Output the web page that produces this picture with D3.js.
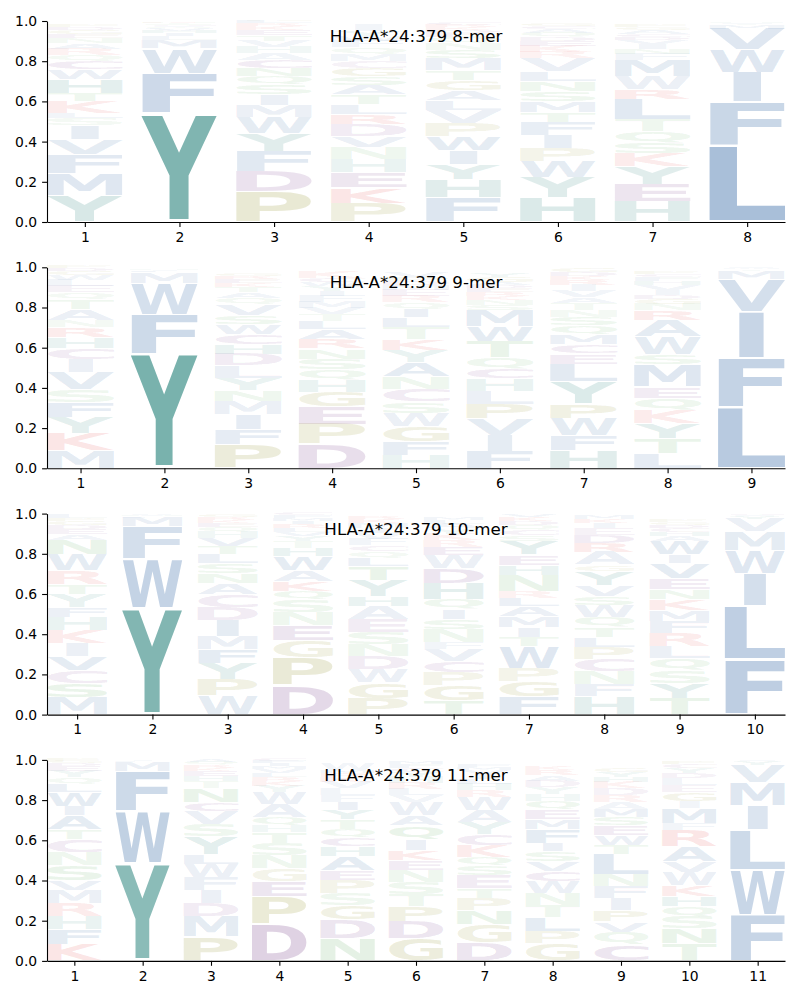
<!DOCTYPE html>
<html>
<head>
<meta charset="utf-8">
<script src="https://cdn.jsdelivr.net/npm/d3@7"></script>
<style>
  body { margin: 0; background: #fff; }
  text { font-family: 'DejaVu Sans', sans-serif; }
</style>
</head>
<body>
<div id="chart"></div>
<script>
let allele = 'HLA-A*24:379';
let merLengths = [8, 9, 10, 11];

// letters are listed bottom to top, heights are probabilities
let mer8Letters = [
  'YMFVISLKTHWCQRANEGDP', 'YFWMLIHVQACSTNKREDGP', 'PDFYWMISQNCAHVTEKRLG', 'PKEHNVDRLTASGCMQFWYI',
  'FHYIWPVLAGTMSNQEDKRC', 'HYWPIFTMSNLVRKEDQACG', 'HEYKSQTLRWMFNIVDCAGP', 'LFIWVMYAHCT'];
let mer8Heights = [
  [.13,.11,.095,.075,.07,.035,.025,.06,.04,.07,.05,.04,.03,.03,.03,.025,.02,.02,.015,.01],
  [.54,.2,.125,.04,.02,.015,.012,.01,.008,.006,.005,.004,.004,.003,.003,.002,.002,.002,.001,.001],
  [.15,.1,.1,.09,.08,.06,.055,.05,.04,.04,.04,.035,.03,.03,.03,.025,.02,.015,.01,.005],
  [.095,.075,.075,.065,.06,.055,.06,.05,.05,.05,.045,.045,.04,.035,.035,.035,.03,.025,.025,.03],
  [.12,.09,.075,.07,.07,.065,.065,.05,.05,.05,.05,.06,.04,.035,.03,.02,.015,.015,.01,.01],
  [.12,.1,.08,.065,.065,.065,.05,.055,.05,.05,.05,.065,.03,.03,.025,.02,.02,.02,.015,.015],
  [.1,.085,.09,.065,.055,.055,.06,.1,.05,.065,.08,.03,.025,.025,.02,.015,.015,.02,.015,.01],
  [.378,.218,.148,.113,.105,.02,.005,.004,.003,.002,.002]];

let mer9Letters = [
  'MKYFSVICHRNATQELWGDP', 'YFWMLIHVQACSTN', 'PFIMNYLDHCWSVQATKERG', 'DPEGHQSNRALTVMFIYWCK',
  'HFGWSCNAYKTLIQREMDPV', 'FIVPLHCQTWMSNKREDAGY', 'HFWPYLECMQSNTAVIRKDG', 'LTYKQEMSWARNGDIVHFCP', 'LFIVMYWAC'];
let mer9Heights = [
  [.09,.085,.08,.075,.06,.085,.065,.055,.055,.05,.035,.055,.05,.035,.03,.03,.025,.02,.015,.01],
  [.57,.196,.156,.052,.008,.005,.003,.002,.002,.001,.001,.001,.001,.001],
  [.12,.075,.075,.065,.055,.06,.06,.06,.045,.05,.05,.045,.055,.03,.03,.025,.02,.02,.015,.015],
  [.12,.1,.085,.075,.06,.05,.055,.05,.045,.05,.04,.035,.03,.03,.03,.025,.025,.02,.02,.03],
  [.065,.07,.075,.065,.055,.065,.06,.07,.06,.055,.06,.05,.04,.035,.03,.03,.025,.02,.02,.025],
  [.085,.08,.08,.075,.065,.06,.05,.055,.08,.075,.08,.025,.025,.02,.02,.02,.015,.015,.025,.02],
  [.09,.075,.085,.07,.11,.09,.05,.045,.05,.045,.04,.035,.035,.03,.03,.03,.025,.02,.02,.02],
  [.075,.075,.075,.065,.06,.055,.11,.05,.09,.08,.05,.03,.025,.02,.025,.025,.02,.02,.015,.01],
  [.304,.243,.229,.165,.04,.008,.005,.004,.002]];

let mer10Letters = [
  'MSCVIKHFYTRWNAEDGPL', 'YWFMLIHVQAC', 'WPYFMIDCANSLTVHQEKRG', 'DPGENSQKAWHTYVLRIMFC',
  'PGWDNSEAHYTLQCFVIMKR', 'TGPCVFNSIQHDWERKYALM', 'FGPWTIMALRNHEYSCQDKV', 'HFNCPLTQWSVYGARDEIKM',
  'TYSQLRFMKNEVIWAHCDGP', 'FLIWMVYACH'];
let mer10Heights = [
  [.085,.07,.065,.07,.065,.065,.065,.05,.065,.05,.065,.08,.075,.03,.025,.02,.02,.015,.02],
  [.53,.244,.162,.044,.006,.004,.003,.003,.002,.001,.001],
  [.095,.08,.08,.07,.065,.08,.065,.065,.055,.05,.05,.045,.04,.04,.03,.025,.02,.015,.015,.015],
  [.145,.14,.085,.075,.065,.065,.04,.05,.055,.07,.04,.035,.025,.02,.02,.02,.015,.015,.015,.01],
  [.08,.08,.065,.065,.06,.06,.065,.065,.05,.08,.07,.04,.035,.03,.03,.03,.025,.025,.02,.015],
  [.07,.075,.065,.055,.06,.035,.065,.05,.05,.05,.08,.075,.065,.04,.035,.03,.025,.025,.02,.015],
  [.09,.075,.065,.11,.045,.05,.055,.05,.04,.035,.08,.05,.05,.07,.03,.025,.025,.02,.02,.015],
  [.09,.06,.065,.06,.06,.05,.05,.05,.06,.045,.055,.07,.03,.065,.045,.04,.035,.025,.02,.02],
  [.08,.075,.065,.06,.06,.065,.06,.055,.055,.05,.055,.075,.04,.07,.025,.02,.02,.015,.015,.01],
  [.275,.268,.16,.112,.095,.065,.015,.005,.003,.002]];

let mer11Letters = [
  'KFHRMVSNCTAIWLQYEDGP', 'YWFMLIHVQ', 'PMDIFWLYSVCNTHEKRQA', 'DPEGNSTHQAWYKRLVMIFC',
  'NDGSPEAHCQTYIFLVKRMW', 'GDPTSNEKIQAWVLRHYCFM', 'DGNPTESQKCYAWRHLIVMF', 'GPLTNWCVSIFMEQHYDARK',
  'CQVPIFNLTWESMARDKHYG', 'TNSQHKWVARFMIGELDYCP', 'FWLIMVYACH'];
let mer11Heights = [
  [.08,.075,.065,.065,.065,.05,.075,.065,.065,.05,.07,.045,.07,.04,.035,.03,.025,.015,.01,.01],
  [.487,.261,.197,.044,.004,.003,.002,.001,.001],
  [.12,.1,.065,.065,.065,.065,.05,.09,.06,.065,.045,.07,.035,.025,.025,.015,.015,.015,.01],
  [.185,.135,.075,.065,.065,.06,.055,.035,.04,.065,.06,.03,.025,.02,.02,.02,.015,.015,.01,.01],
  [.11,.095,.07,.06,.065,.05,.07,.05,.045,.04,.05,.045,.04,.035,.035,.03,.025,.02,.015,.03],
  [.11,.085,.075,.06,.06,.06,.05,.05,.055,.07,.05,.065,.035,.03,.03,.03,.025,.02,.02,.015],
  [.09,.09,.07,.06,.05,.065,.05,.04,.06,.055,.06,.06,.065,.035,.03,.025,.025,.02,.015,.015],
  [.085,.06,.07,.06,.06,.06,.05,.05,.05,.04,.07,.05,.045,.045,.035,.035,.03,.03,.025,.02],
  [.08,.065,.05,.055,.06,.06,.06,.1,.045,.05,.05,.04,.04,.035,.035,.035,.03,.025,.025,.02],
  [.085,.075,.06,.05,.05,.055,.065,.055,.075,.08,.035,.075,.035,.045,.035,.035,.025,.025,.02,.015],
  [.228,.226,.198,.123,.113,.085,.02,.004,.002,.001]];

let panelLetters = [mer8Letters, mer9Letters, mer10Letters, mer11Letters];
let panelHeights = [mer8Heights, mer9Heights, mer10Heights, mer11Heights];
let yTicks = [0, 0.2, 0.4, 0.6, 0.8, 1.0];

let letterColors = {};
'AFILMVW'.split('').forEach(c => letterColors[c] = '#3669a6');
'HY'.split('').forEach(c => letterColors[c] = '#27827b');
'CDE'.split('').forEach(c => letterColors[c] = '#763e8a');
'GP'.split('').forEach(c => letterColors[c] = '#919128');
'KR'.split('').forEach(c => letterColors[c] = '#df3737');
'NQST'.split('').forEach(c => letterColors[c] = '#5eab5e');

let svgWidth = 800, svgHeight = 1000;
let left = 47, right = 785, panelTop = 21, panelHeight = 201, panelStep = 246.3;
let letterWidth = 0.8, vpad = 0.05;

let svg = d3.select('#chart').append('svg')
    .attr('width', svgWidth)
    .attr('height', svgHeight);

// ink bounds of each glyph, so a letter can be stretched to fill its box
let ctx = document.createElement('canvas').getContext('2d');
let fontSize = 100;
ctx.font = `bold ${fontSize}px 'DejaVu Sans'`;
let glyphBox = {};
function box(ch) {
    if (!glyphBox[ch]) {
        let m = ctx.measureText(ch);
        glyphBox[ch] = {l: m.actualBoundingBoxLeft, r: m.actualBoundingBoxRight,
                        a: m.actualBoundingBoxAscent, d: m.actualBoundingBoxDescent};
    }
    return glyphBox[ch];
}
let eBox = box('E');

merLengths.forEach((len, i) => {
    let top = panelTop + i * panelStep;
    let x = d3.scaleLinear().domain([0.6, len + 0.4]).range([left, right]);
    let y = d3.scaleLinear().domain([0, 1]).range([top + panelHeight, top]);
    let g = svg.append('g');

    let letters = panelLetters[i], heights = panelHeights[i];
    letters.forEach((str, p) => {
        let pos = p + 1;
        let base = 0;
        str.split('').forEach((ch, k) => {
            let h = heights[p][k];
            let y0 = base + h * vpad / 2, y1 = base + h * (1 - vpad / 2);
            base += h;
            let b = box(ch);
            let slotW = x(pos + letterWidth / 2) - x(pos - letterWidth / 2);
            // narrow letters (like I) are not stretched wider than E would be
            let sx = Math.min(slotW / (b.l + b.r), slotW / (eBox.l + eBox.r));
            let glyphW = sx * (b.l + b.r);
            let X0 = x(pos) - glyphW / 2;
            let Yt = y(y1), Yb = y(y0);
            let sy = (Yb - Yt) / (b.a + b.d);
            g.append('text')
                .attr('transform', `translate(${X0 + b.l * sx},${Yt + b.a * sy}) scale(${sx},${sy})`)
                .attr('font-size', fontSize)
                .attr('font-weight', 'bold')
                .attr('fill', letterColors[ch])
                .attr('fill-opacity', Math.min(1, h + 0.05))
                .text(ch);
        });
    });

    let xAxis = g.append('g')
        .attr('transform', `translate(0,${top + panelHeight})`)
        .call(d3.axisBottom(x).tickValues(d3.range(1, len + 1)).tickFormat(d3.format('d'))
            .tickSize(4.9).tickPadding(4.9).tickSizeOuter(0));
    let yAxis = g.append('g')
        .attr('transform', `translate(${left},0)`)
        .call(d3.axisLeft(y).tickValues(yTicks).tickFormat(d3.format('.1f'))
            .tickSize(4.9).tickPadding(4.9).tickSizeOuter(0));
    [xAxis, yAxis].forEach(a => {
        a.selectAll('text').attr('font-size', 13.9).attr('font-family', "'DejaVu Sans'").attr('fill', '#000');
        a.selectAll('line').attr('stroke', '#000').attr('stroke-width', 1.1);
        a.select('.domain').attr('stroke', '#000').attr('stroke-width', 1.1);
    });

    g.append('text')
        .attr('x', (left + right) / 2)
        .attr('y', top + 21)
        .attr('text-anchor', 'middle')
        .attr('font-size', 16.7)
        .attr('fill', '#000')
        .text(`${allele} ${len}-mer`);
});
</script>
</body>
</html>
